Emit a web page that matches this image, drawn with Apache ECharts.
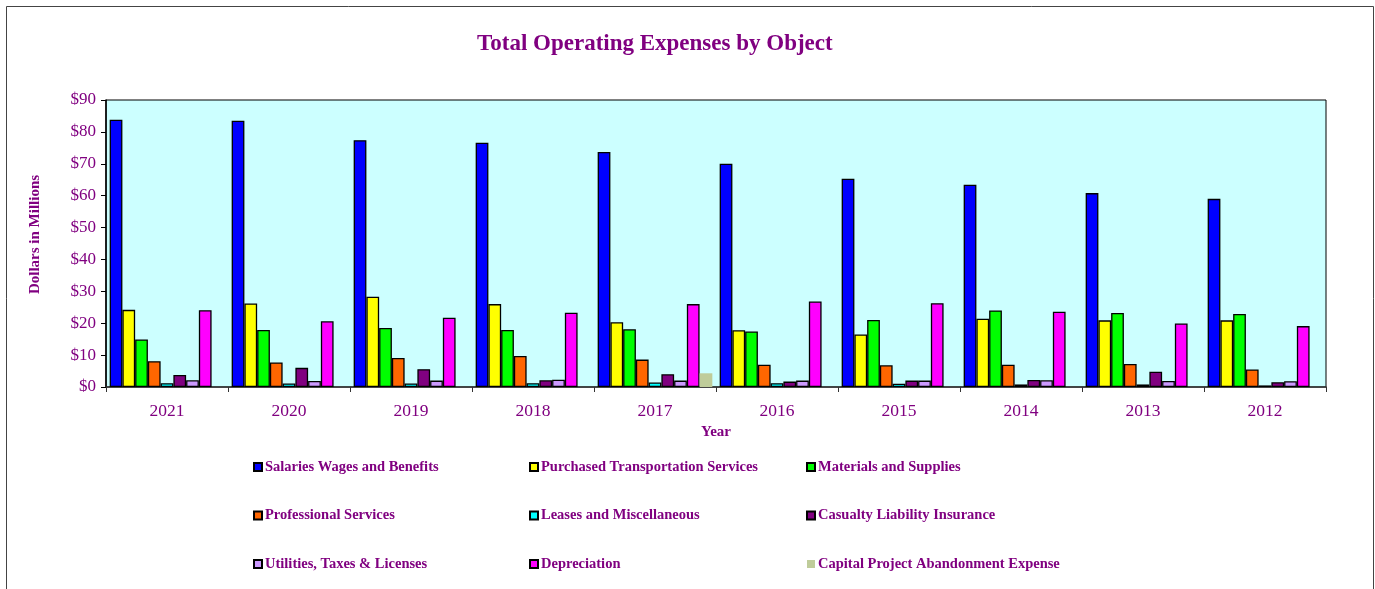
<!DOCTYPE html>
<html>
<head>
<meta charset="utf-8">
<script src="https://cdn.jsdelivr.net/npm/echarts@6/dist/echarts.min.js"></script>
<style>
  html, body { margin: 0; padding: 0; background: #fff; }
  #chart { width: 1375px; height: 589px; }
</style>
</head>
<body>
<div id="chart"></div>
<script>
const years = ["2021", "2020", "2019", "2018", "2017", "2016", "2015", "2014", "2013", "2012"];

const salaries     = [83.8, 83.5, 77.4, 76.6, 73.7, 70.0, 65.3, 63.4, 60.8, 59.0];
const purchased    = [24.2, 26.2, 28.3, 26.0, 20.3, 17.8, 16.5, 21.4, 20.9, 20.9];
const materials    = [14.9, 17.9, 18.5, 17.9, 18.1, 17.4, 21.0, 24.0, 23.2, 22.9];
const professional = [8.1, 7.7, 9.1, 9.7, 8.6, 7.0, 6.8, 7.0, 7.2, 5.5];
const leases       = [1.2, 1.1, 1.1, 1.2, 1.4, 1.2, 1.0, 0.8, 0.8, 0.5];
const casualty     = [3.8, 6.0, 5.6, 2.1, 4.0, 1.7, 2.0, 2.2, 4.8, 1.5];
const utilities    = [2.1, 1.9, 2.0, 2.3, 2.0, 2.0, 2.0, 2.1, 1.9, 1.8];
const depreciation = [24.1, 20.6, 21.7, 23.3, 26.0, 26.8, 26.3, 23.6, 19.9, 19.1];
const abandonment  = [null, null, null, null, 4.3, null, null, null, null, null];

const yTicks = [0, 10, 20, 30, 40, 50, 60, 70, 80, 90];

const purple = "#800080";
const serif = "Liberation Serif";

const seriesDefs = [
  ["Salaries Wages and Benefits", salaries, "#0000FF", true],
  ["Purchased Transportation Services", purchased, "#FFFF00", true],
  ["Materials and Supplies", materials, "#00FF00", true],
  ["Professional Services", professional, "#FF6600", true],
  ["Leases and Miscellaneous", leases, "#00FFFF", true],
  ["Casualty Liability Insurance", casualty, "#800080", true],
  ["Utilities, Taxes & Licenses", utilities, "#CC99FF", true],
  ["Depreciation", depreciation, "#FF00FF", true],
  ["Capital Project Abandonment Expense", abandonment, "#BFCC9A", false]
];

const series = seriesDefs.map(([name, data, color, outlined]) => ({
  name,
  type: "bar",
  data,
  barGap: "0%",
  barCategoryGap: "6%",
  itemStyle: {
    color,
    borderColor: outlined ? "#000" : color,
    borderWidth: outlined ? 1.3 : 0
  }
}));

const legendText = {
  color: purple,
  fontFamily: serif,
  fontWeight: "bold",
  fontSize: 14.5,
  lineHeight: 16,
  padding: [0, 0, 0, -2]
};

function legendCol(left, names) {
  return {
    orient: "vertical",
    left,
    top: 459,
    padding: 0,
    itemWidth: 8,
    itemHeight: 8,
    itemGap: 32.5,
    icon: "rect",
    selectedMode: false,
    textStyle: legendText,
    data: names
  };
}

const chart = echarts.init(document.getElementById("chart"), null, { renderer: "canvas" });

chart.setOption({
  animation: false,
  backgroundColor: "#fff",
  title: {
    text: "Total Operating Expenses by Object",
    left: 477,
    top: 33,
    padding: 0,
    textStyle: { color: purple, fontFamily: serif, fontWeight: "bold", fontSize: 23 }
  },
  graphic: [{
    type: "rect",
    shape: { x: 6.5, y: 6.5, width: 1367, height: 600 },
    style: { fill: null, stroke: "#444", lineWidth: 1 },
    silent: true
  }],
  legend: [
    legendCol(253, [seriesDefs[0][0], seriesDefs[3][0], seriesDefs[6][0]]),
    legendCol(529, [seriesDefs[1][0], seriesDefs[4][0], seriesDefs[7][0]]),
    legendCol(806, [seriesDefs[2][0], seriesDefs[5][0], seriesDefs[8][0]])
  ],
  grid: {
    left: 106,
    right: 49,
    top: 100,
    bottom: 202,
    show: true,
    backgroundColor: "#CCFFFF",
    borderColor: "#000",
    borderWidth: 1
  },
  xAxis: {
    type: "category",
    data: years,
    name: "Year",
    nameLocation: "middle",
    nameGap: 38,
    nameTextStyle: { color: purple, fontFamily: serif, fontWeight: "bold", fontSize: 15 },
    axisLine: { lineStyle: { color: "#333", width: 1.5 } },
    axisTick: { show: true, length: 5, lineStyle: { color: "#333" } },
    axisLabel: { color: purple, fontFamily: serif, fontSize: 17.5, margin: 15 }
  },
  yAxis: {
    type: "value",
    min: yTicks[0],
    max: yTicks[yTicks.length - 1],
    interval: 10,
    name: "Dollars in Millions",
    nameLocation: "middle",
    nameRotate: 90,
    nameGap: 63,
    nameTextStyle: { color: purple, fontFamily: serif, fontWeight: "bold", fontSize: 15, padding: [0, 0, 0, 18] },
    splitLine: { show: false },
    axisLine: { show: true, lineStyle: { color: "#000", width: 1.5 } },
    axisTick: { show: true, length: 5, lineStyle: { color: "#000" } },
    axisLabel: {
      color: purple,
      fontFamily: serif,
      fontSize: 17,
      margin: 10,
      formatter: v => "$" + v
    }
  },
  series
});
</script>
</body>
</html>
